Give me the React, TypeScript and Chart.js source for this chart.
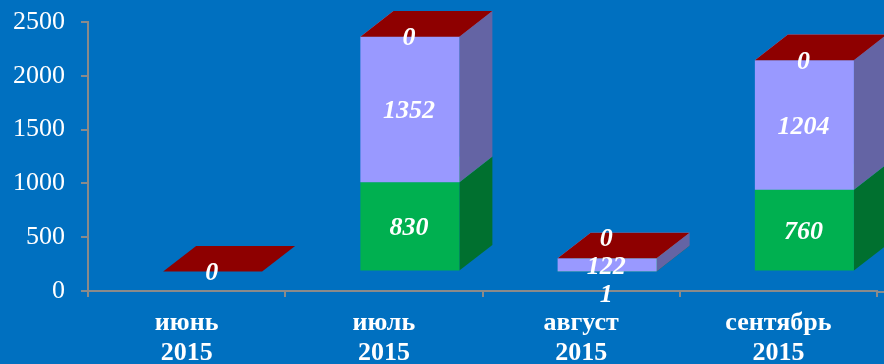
import React, { useEffect, useRef } from 'react';
import { Chart, registerables } from 'chart.js';

Chart.register(...registerables);

const months = ['июнь', 'июль', 'август', 'сентябрь'];
const yearLabel = '2015';
const greenValues: (number | null)[] = [null, 830, 1, 760];
const purpleValues: (number | null)[] = [null, 1352, 122, 1204];
const redValues: (number | null)[] = [0, 0, 0, 0];
const yTicks = [0, 500, 1000, 1500, 2000, 2500];

const BG = '#0070C0';
const AXIS = '#8A8A8A';
const FONT = "'Liberation Serif', 'Times New Roman', serif";

const faces = [
  { front: '#00B050', side: '#00702F', top: '#00C060' },
  { front: '#9999FF', side: '#6464A4', top: '#AFAFFF' },
  { front: '#C00000', side: '#700000', top: '#8E0000' },
];

// 3D projection constants
const FRONT_DX = 26;
const FRONT_DY = -19.5;
const DEPTH_DX = 33;
const DEPTH_DY = -25.6;
const LABEL_GAP = 28;

const box3dPlugin = {
  id: 'box3d',
  beforeDraw(chart: any) {
    const ctx = chart.ctx;
    ctx.save();
    ctx.fillStyle = BG;
    ctx.fillRect(0, 0, chart.width, chart.height);
    ctx.restore();
  },
  afterDatasetsDraw(chart: any) {
    const ctx = chart.ctx;
    const n = chart.data.labels.length;
    const nds = chart.data.datasets.length;
    ctx.save();
    const labelsAll: any[] = [];
    for (let i = 0; i < n; i++) {
      const segs: any[] = [];
      for (let d = 0; d < nds; d++) {
        const v = chart.data.datasets[d].data[i];
        if (v === null || v === undefined) continue;
        const el = chart.getDatasetMeta(d).data[i];
        const p = el.getProps(['x', 'y', 'base', 'width'], true);
        const xl = p.x - p.width / 2 + FRONT_DX;
        const xr = p.x + p.width / 2 + FRONT_DX;
        const yt = Math.min(p.y, p.base) + FRONT_DY;
        const yb = Math.max(p.y, p.base) + FRONT_DY;
        const f = faces[d];
        ctx.fillStyle = f.side;
        ctx.beginPath();
        ctx.moveTo(xr, yb);
        ctx.lineTo(xr + DEPTH_DX, yb + DEPTH_DY);
        ctx.lineTo(xr + DEPTH_DX, yt + DEPTH_DY);
        ctx.lineTo(xr, yt);
        ctx.closePath();
        ctx.fill();
        ctx.fillStyle = f.front;
        ctx.fillRect(xl, yt, xr - xl, yb - yt);
        ctx.fillStyle = f.top;
        ctx.beginPath();
        ctx.moveTo(xl, yt);
        ctx.lineTo(xl + DEPTH_DX, yt + DEPTH_DY);
        ctx.lineTo(xr + DEPTH_DX, yt + DEPTH_DY);
        ctx.lineTo(xr, yt);
        ctx.closePath();
        ctx.fill();
        segs.push({ v, x: (xl + xr) / 2, y: (yt + yb) / 2 });
      }
      if (segs.length) {
        let anchor = 0;
        segs.forEach((s, k) => { if (s.v > segs[anchor].v) anchor = k; });
        for (let k = anchor + 1; k < segs.length; k++) {
          segs[k].y = Math.min(segs[k].y, segs[k - 1].y - LABEL_GAP);
        }
        for (let k = anchor - 1; k >= 0; k--) {
          segs[k].y = Math.max(segs[k].y, segs[k + 1].y + LABEL_GAP);
        }
        labelsAll.push(...segs);
      }
    }
    ctx.fillStyle = '#FFFFFF';
    ctx.font = `italic bold 26px ${FONT}`;
    ctx.textAlign = 'center';
    ctx.textBaseline = 'middle';
    for (const l of labelsAll) {
      ctx.fillText(String(l.v), l.x - 1, l.y + 2);
    }
    const ca = chart.chartArea;
    ctx.strokeStyle = AXIS;
    ctx.lineWidth = 2;
    ctx.beginPath();
    ctx.moveTo(ca.right, ca.bottom + 1);
    ctx.lineTo(chart.width, ca.bottom + 1);
    ctx.stroke();
    ctx.restore();
  },
};

export default function App() {
  const ref = useRef<HTMLCanvasElement | null>(null);
  useEffect(() => {
    document.body.style.margin = '0';
    document.body.style.background = BG;
    const canvas = ref.current!;
    const chart = new Chart(canvas, {
      type: 'bar',
      data: {
        labels: months.map((m) => [m, yearLabel]),
        datasets: [
          { label: 'green', data: greenValues, backgroundColor: 'rgba(0,0,0,0)', borderWidth: 0 },
          { label: 'purple', data: purpleValues, backgroundColor: 'rgba(0,0,0,0)', borderWidth: 0 },
          { label: 'red', data: redValues, backgroundColor: 'rgba(0,0,0,0)', borderWidth: 0 },
        ] as any,
      },
      options: {
        animation: false,
        responsive: false,
        devicePixelRatio: 1,
        layout: { padding: { top: 22, right: 7, left: 0, bottom: 0 } },
        datasets: { bar: { categoryPercentage: 1, barPercentage: 0.502 } } as any,
        plugins: { legend: { display: false }, tooltip: { enabled: false } },
        scales: {
          x: {
            stacked: true,
            grid: { display: true, drawOnChartArea: false, drawTicks: true, tickLength: 6, color: AXIS, lineWidth: 2, offset: true },
            border: { display: true, color: AXIS, width: 2 },
            ticks: {
              color: '#FFFFFF',
              font: { family: FONT, size: 26, weight: 'bold', lineHeight: 1.15 },
              padding: 11,
              maxRotation: 0,
              autoSkip: false,
            },
            afterFit: (s: any) => { s.height = 73; },
          },
          y: {
            stacked: true,
            min: 0,
            max: 2500,
            grid: { display: true, drawOnChartArea: false, drawTicks: true, tickLength: 7, color: AXIS, lineWidth: 2 },
            border: { display: true, color: AXIS, width: 2 },
            ticks: {
              color: '#FFFFFF',
              font: { family: FONT, size: 26 },
              padding: 16,
              callback: (v: any) => String(v),
            },
            afterBuildTicks: (s: any) => { s.ticks = yTicks.map((v) => ({ value: v })); },
            afterFit: (s: any) => { s.width = 88; s.paddingTop = 0; s.paddingBottom = 0; },
          },
        },
      } as any,
      plugins: [box3dPlugin],
    });
    return () => chart.destroy();
  }, []);
  return (
    <div style={{ width: 884, height: 364, background: BG }}>
      <canvas ref={ref} width={884} height={364} style={{ display: 'block' }} />
    </div>
  );
}
